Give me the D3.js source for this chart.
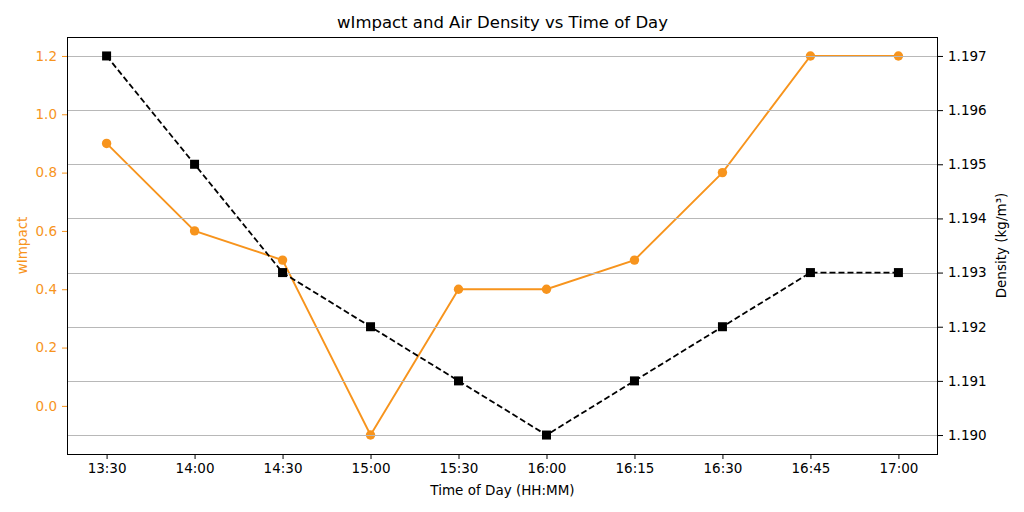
<!DOCTYPE html>
<html lang="en">
<head>
    <meta charset="utf-8">
    <title>wImpact and Air Density</title>
    <script src="https://cdn.jsdelivr.net/npm/d3@7"></script>
    <style>
        body { margin: 0; background: #fff; }
        text { font-family: "DejaVu Sans", sans-serif; }
    </style>
</head>
<body>
<script>
    var times = ["13:30", "14:00", "14:30", "15:00", "15:30", "16:00", "16:15", "16:30", "16:45", "17:00"];
    var wImpact = [0.9, 0.6, 0.5, -0.1, 0.4, 0.4, 0.5, 0.8, 1.2, 1.2];
    var density = [1.197, 1.195, 1.193, 1.192, 1.191, 1.190, 1.191, 1.192, 1.193, 1.193];
    var leftTicks = [0.0, 0.2, 0.4, 0.6, 0.8, 1.0, 1.2];
    var rightTicks = [1.190, 1.191, 1.192, 1.193, 1.194, 1.195, 1.196, 1.197];

    var w = 1024, h = 512;
    // plot box (avoid "top", it is window.top)
    var pLeft = 67, pRight = 938, pTop = 37, pBottom = 454;
    var orange = "#F7941D";

    var svg = d3.select("body").append("svg")
        .attr("width", w)
        .attr("height", h);

    // category positions with matplotlib-like 5% margins
    var xScale = d3.scaleLinear()
        .domain([-0.45, times.length - 1 + 0.45])
        .range([pLeft, pRight]);

    var yLeft = d3.scaleLinear()
        .domain([-0.165, 1.265])
        .range([pBottom, pTop]);

    var yRight = d3.scaleLinear()
        .domain([1.18965, 1.19735])
        .range([pBottom, pTop]);

    // orange series (under the twin axis grid)
    var lineL = d3.line()
        .x(function(d, i) { return xScale(i); })
        .y(function(d) { return yLeft(d); });

    svg.append("path")
        .datum(wImpact)
        .attr("d", lineL)
        .attr("fill", "none")
        .attr("stroke", orange)
        .attr("stroke-width", 1.9);

    svg.selectAll("circle.wi")
        .data(wImpact)
        .enter()
        .append("circle")
        .attr("class", "wi")
        .attr("cx", function(d, i) { return xScale(i); })
        .attr("cy", function(d) { return yLeft(d); })
        .attr("r", 4.7)
        .attr("fill", orange);

    // grid from the right axis
    svg.append("g")
        .selectAll("line")
        .data(rightTicks)
        .enter()
        .append("line")
        .attr("x1", pLeft)
        .attr("x2", pRight)
        .attr("y1", function(d) { return Math.round(yRight(d)) + 0.5; })
        .attr("y2", function(d) { return Math.round(yRight(d)) + 0.5; })
        .attr("stroke", "#b8b8b8")
        .attr("stroke-width", 1);

    // density series
    var lineR = d3.line()
        .x(function(d, i) { return xScale(i); })
        .y(function(d) { return yRight(d); });

    svg.append("path")
        .datum(density)
        .attr("d", lineR)
        .attr("fill", "none")
        .attr("stroke", "#000")
        .attr("stroke-width", 1.8)
        .attr("stroke-dasharray", "6,3");

    svg.selectAll("rect.den")
        .data(density)
        .enter()
        .append("rect")
        .attr("class", "den")
        .attr("x", function(d, i) { return xScale(i) - 4.5; })
        .attr("y", function(d) { return yRight(d) - 4.5; })
        .attr("width", 9)
        .attr("height", 9)
        .attr("fill", "#000");

    // axes
    var xAxis = d3.axisBottom(xScale)
        .tickValues(d3.range(times.length))
        .tickFormat(function(i) { return times[i]; })
        .tickSize(5)
        .tickPadding(4);

    var gx = svg.append("g")
        .attr("transform", "translate(0," + pBottom + ")")
        .call(xAxis);

    var gl = svg.append("g")
        .attr("transform", "translate(" + pLeft + ",0)")
        .call(d3.axisLeft(yLeft).tickValues(leftTicks).tickFormat(d3.format(".1f")).tickSize(5).tickPadding(5));

    var gr = svg.append("g")
        .attr("transform", "translate(" + pRight + ",0)")
        .call(d3.axisRight(yRight).tickValues(rightTicks).tickFormat(d3.format(".3f")).tickSize(5).tickPadding(5));

    [gx, gl, gr].forEach(function(g) {
        g.select(".domain").remove();
        g.selectAll("text").attr("font-size", "13.5px").attr("font-family", "DejaVu Sans, sans-serif").attr("fill", "#000");
        g.selectAll("line").attr("stroke", "#000").attr("stroke-width", 1);
    });
    gl.selectAll("text").attr("fill", orange);
    gl.selectAll("line").attr("stroke", orange);

    // frame
    svg.append("rect")
        .attr("x", pLeft + 0.5)
        .attr("y", pTop + 0.5)
        .attr("width", pRight - pLeft - 1)
        .attr("height", pBottom - pTop)
        .attr("fill", "none")
        .attr("stroke", "#000")
        .attr("stroke-width", 1);

    // labels
    svg.append("text")
        .attr("x", (pLeft + pRight) / 2)
        .attr("y", 28)
        .attr("text-anchor", "middle")
        .attr("font-size", "16.5px")
        .text("wImpact and Air Density vs Time of Day");

    svg.append("text")
        .attr("x", (pLeft + pRight) / 2)
        .attr("y", 495)
        .attr("text-anchor", "middle")
        .attr("font-size", "13.5px")
        .text("Time of Day (HH:MM)");

    svg.append("text")
        .attr("transform", "translate(27," + (pTop + pBottom) / 2 + ") rotate(-90)")
        .attr("text-anchor", "middle")
        .attr("font-size", "13.5px")
        .attr("fill", orange)
        .text("wImpact");

    svg.append("text")
        .attr("transform", "translate(1006," + (pTop + pBottom) / 2 + ") rotate(-90)")
        .attr("text-anchor", "middle")
        .attr("font-size", "13.5px")
        .text("Density (kg/m³)");
</script>
</body>
</html>
